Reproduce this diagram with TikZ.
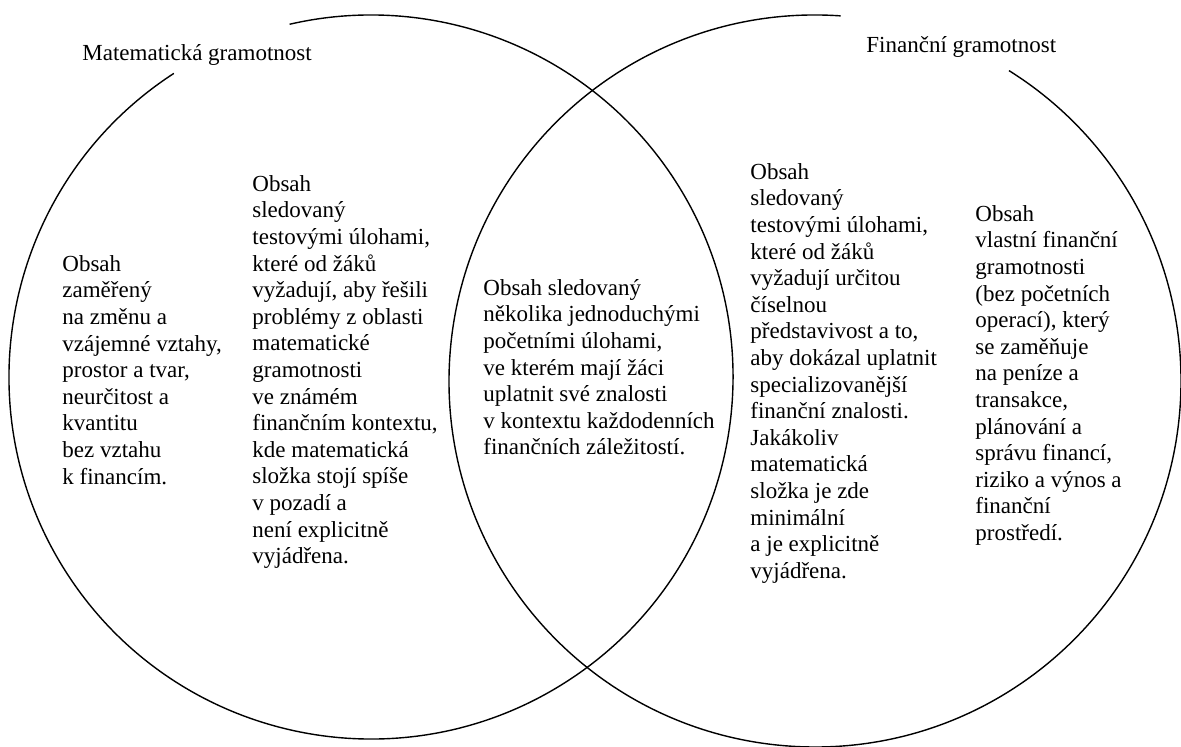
\documentclass[tikz,border=0pt]{standalone}
\usepackage{fontspec}
\setmainfont{Liberation Serif}
\usetikzlibrary{positioning}

\begin{document}
\begin{tikzpicture}[
    x=0.5pt, y=0.5pt,
    ring/.style={draw, line width=0.7pt},
    title/.style={inner sep=0pt, anchor=base west, font=\fontsize{11.5}{13.3}\selectfont},
    txt/.style={inner sep=0pt, anchor=north west, align=left, font=\fontsize{11.5}{13.3}\selectfont}
]

% Frame
\path[use as bounding box, fill=white] (0,0) rectangle (1181,747);

% Circles
\coordinate (mc) at (371,370);
\coordinate (fc) at (815,366);
\draw[ring] (mc) ++(123:181pt) arc[start angle=123, end angle=463, radius=181pt];
\draw[ring] (fc) ++(86:183pt) arc[start angle=86, end angle=418, radius=183pt];

% Titles
\node[title] (mtitle) at (82,686) {Matematická gramotnost};
\node[title] (ftitle) at (866,694) {Finanční gramotnost};

% Content
\node[txt] (mathonly) at (62,492) {Obsah\\zaměřený\\na změnu a\\vzájemné vztahy,\\prostor a tvar,\\neurčitost a\\kvantitu\\bez vztahu\\k financím.};
\node[txt] (mathfin) at (252,572) {Obsah\\sledovaný\\testovými úlohami,\\které od žáků\\vyžadují, aby řešili\\problémy z oblasti\\matematické\\gramotnosti\\ve známém\\finančním kontextu,\\kde matematická\\složka stojí spíše\\v pozadí a\\není explicitně\\vyjádřena.};
\node[txt] (both) at (483,468) {Obsah sledovaný\\několika jednoduchými\\početními úlohami,\\ve kterém mají žáci\\uplatnit své znalosti\\v kontextu každodenních\\finančních záležitostí.};
\node[txt] (finmath) at (750,584) {Obsah\\sledovaný\\testovými úlohami,\\které od žáků\\vyžadují určitou\\číselnou\\představivost a to,\\aby dokázal uplatnit\\specializovanější\\finanční znalosti.\\Jakákoliv\\matematická\\složka je zde\\minimální\\a je explicitně\\vyjádřena.};
\node[txt] (finonly) at (975,542) {Obsah\\vlastní finanční\\gramotnosti\\(bez početních\\operací), který\\se zaměňuje\\na peníze a\\transakce,\\plánování a\\správu financí,\\riziko a výnos a\\finanční\\prostředí.};

\end{tikzpicture}
\end{document}
